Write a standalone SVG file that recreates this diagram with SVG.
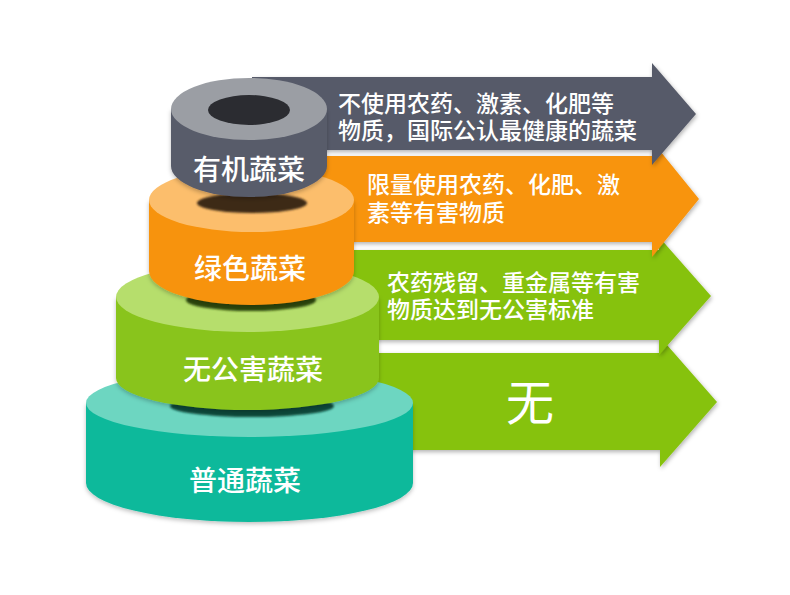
<svg xmlns="http://www.w3.org/2000/svg" width="790" height="595" viewBox="0 0 790 595">
  <defs>
    <filter id="sh" x="-10%" y="-10%" width="120%" height="130%">
      <feDropShadow dx="1" dy="2" stdDeviation="2" flood-color="#000" flood-opacity="0.3"/>
    </filter>
    <filter id="csh" x="-10%" y="-10%" width="120%" height="130%">
      <feDropShadow dx="0" dy="2" stdDeviation="2" flood-color="#000" flood-opacity="0.25"/>
    </filter>
    <filter id="blur" x="-20%" y="-50%" width="140%" height="200%">
      <feGaussianBlur stdDeviation="1"/>
    </filter>
  </defs>
  <style>
    .at { font-family: "Liberation Sans", "Noto Sans CJK SC", sans-serif; font-size: 23px; font-weight: 500; fill: #ffffff; }
    .ct { font-family: "Noto Sans CJK SC", "Liberation Sans", sans-serif; font-size: 28px; font-weight: 500; fill: #ffffff; text-anchor: middle; }
    .big { font-family: "Noto Sans CJK SC", "Liberation Sans", sans-serif; font-size: 48px; fill: #ffffff; text-anchor: middle; }
  </style>
  <rect width="790" height="595" fill="#ffffff"/>

  <g id="connectors">
    <g id="arrow-putong">
      <polygon filter="url(#sh)" fill="#86C20B" points="250,353 660,353 660,337 717,402 660,467 660,450 250,450"/>
      <text class="big" x="530" y="420">无</text>
    </g>
    <g id="arrow-wugonghai">
      <polygon filter="url(#sh)" fill="#86C20B" points="250,250 659,250 659,237 711,296 659,355 659,340 250,340"/>
      <text class="at" x="387" y="291">农药残留、重金属等有害</text>
      <text class="at" x="387" y="318">物质达到无公害标准</text>
    </g>
    <g id="arrow-lvse">
      <polygon filter="url(#sh)" fill="#F8940D" points="250,156 652,156 652,141 699,199 652,257 652,242 250,242"/>
      <text class="at" x="367" y="193">限量使用农药、化肥、激</text>
      <text class="at" x="367" y="221">素等有害物质</text>
    </g>
    <g id="arrow-youji">
      <polygon filter="url(#sh)" fill="#565A69" points="252,77 652,77 652,63 696,114 652,165 652,150 252,150"/>
      <text class="at" x="338" y="112">不使用农药、激素、化肥等</text>
      <text class="at" x="338" y="139">物质，国际公认最健康的蔬菜</text>
    </g>
  </g>

  <g id="node-putong">
    <path filter="url(#csh)" fill="#0BB99B" d="M86,403 L86,483 A163.5,39 0 0 0 413,483 L413,403 Z"/>
    <ellipse cx="249.5" cy="403" rx="163.5" ry="34" fill="#6DD6C1"/>
    <text class="ct" x="245" y="491">普通蔬菜</text>
  </g>

  <g id="node-wugonghai">
    <ellipse cx="252" cy="406" rx="82" ry="11" fill="#0C4A3A" filter="url(#blur)"/>
    <path filter="url(#csh)" fill="#89C41A" d="M116,297 L116,378 A131.5,32 0 0 0 379,378 L379,297 Z"/>
    <ellipse cx="247.5" cy="297" rx="131.5" ry="35" fill="#B6DE6C"/>
    <text class="ct" x="253" y="380">无公害蔬菜</text>
  </g>

  <g id="node-lvse">
    <ellipse cx="251" cy="300" rx="65" ry="11" fill="#2F4A0E" filter="url(#blur)"/>
    <path filter="url(#csh)" fill="#F7930F" d="M149,200 L149,271 A102.5,34 0 0 0 354,271 L354,200 Z"/>
    <ellipse cx="251.5" cy="200" rx="102.5" ry="32" fill="#FCBE6C"/>
    <text class="ct" x="250" y="279">绿色蔬菜</text>
  </g>

  <g id="node-youji">
    <ellipse cx="252" cy="203" rx="55" ry="10" fill="#3D2B18" filter="url(#blur)"/>
    <path filter="url(#csh)" fill="#585B6B" d="M171,109 L171,166 A78,31 0 0 0 327,166 L327,109 Z"/>
    <ellipse cx="249" cy="109" rx="78" ry="31" fill="#9B9EA4"/>
    <ellipse cx="249" cy="110" rx="41" ry="15" fill="#2B2C31"/>
    <text class="ct" x="249" y="180">有机蔬菜</text>
  </g>
</svg>
